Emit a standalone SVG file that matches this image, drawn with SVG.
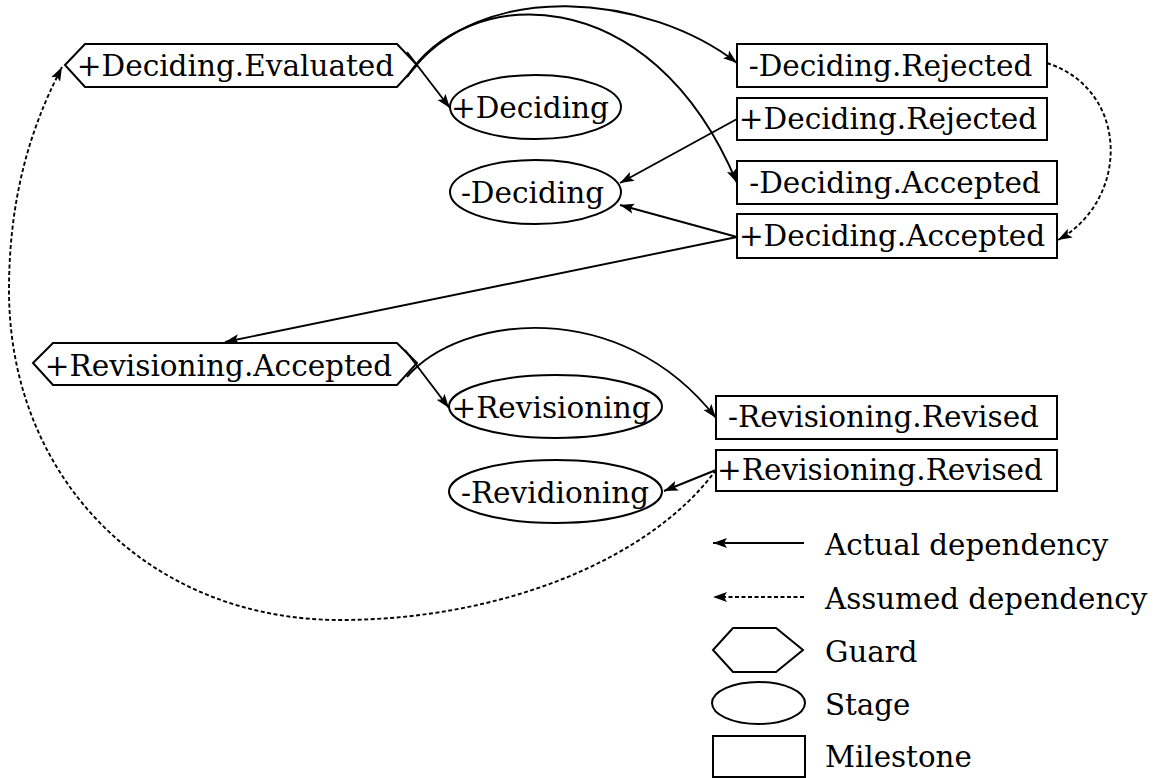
<svg xmlns="http://www.w3.org/2000/svg" width="1160" height="778" viewBox="0 0 1160 778">
  <style>
    .shape { fill: #fff; stroke: #000; stroke-width: 2; }
    .lbl { font-family: "DejaVu Serif", "Liberation Serif", serif; font-size: 29.5px; fill: #000; text-anchor: middle; }
    .leg { font-family: "DejaVu Serif", "Liberation Serif", serif; font-size: 29.3px; fill: #000; }
    .edge { fill: none; stroke: #000; stroke-width: 1.9; marker-end: url(#arrow); }
    .dash { stroke-dasharray: 4 2.5; }
  </style>
  <defs>
    <marker id="arrow" markerUnits="userSpaceOnUse" markerWidth="15" markerHeight="12" viewBox="0 0 15 12" refX="14" refY="6" orient="auto">
      <path d="M0,1 L14,6 L0,11 L3,6 Z" fill="#000"/>
    </marker>
  </defs>

  <!-- nodes -->
  <g id="guard-deciding-evaluated">
    <polygon class="shape" points="65,65 85,44 397,44 417,65 397,87 85,87"/>
    <text class="lbl" x="235.5" y="76">+Deciding.Evaluated</text>
  </g>
  <g id="stage-plus-deciding">
    <ellipse class="shape" cx="535.5" cy="107" rx="85.5" ry="32"/>
    <text class="lbl" x="530" y="118">+Deciding</text>
  </g>
  <g id="stage-minus-deciding">
    <ellipse class="shape" cx="535.5" cy="192" rx="85.5" ry="32"/>
    <text class="lbl" x="532.5" y="203">-Deciding</text>
  </g>
  <g id="ms-minus-deciding-rejected">
    <rect class="shape" x="737" y="44" width="310" height="43"/>
    <text class="lbl" x="890.5" y="76">-Deciding.Rejected</text>
  </g>
  <g id="ms-plus-deciding-rejected">
    <rect class="shape" x="737" y="98" width="310" height="42"/>
    <text class="lbl" x="888" y="129">+Deciding.Rejected</text>
  </g>
  <g id="ms-minus-deciding-accepted">
    <rect class="shape" x="737" y="161" width="320" height="43"/>
    <text class="lbl" x="895" y="193">-Deciding.Accepted</text>
  </g>
  <g id="ms-plus-deciding-accepted">
    <rect class="shape" x="737" y="214" width="320" height="44"/>
    <text class="lbl" x="892" y="246">+Deciding.Accepted</text>
  </g>
  <g id="guard-revisioning-accepted">
    <polygon class="shape" points="33,363 53,343 397,343 417,363 397,385 53,385"/>
    <text class="lbl" x="218.5" y="376">+Revisioning.Accepted</text>
  </g>
  <g id="stage-plus-revisioning">
    <ellipse class="shape" cx="555.5" cy="406.5" rx="106.5" ry="31.5"/>
    <text class="lbl" x="551" y="418">+Revisioning</text>
  </g>
  <g id="stage-minus-revisioning">
    <ellipse class="shape" cx="555.5" cy="491.5" rx="106.5" ry="31.5"/>
    <text class="lbl" x="555" y="503">-Revidioning</text>
  </g>
  <g id="ms-minus-revisioning-revised">
    <rect class="shape" x="716" y="396" width="341" height="43"/>
    <text class="lbl" x="883.5" y="427">-Revisioning.Revised</text>
  </g>
  <g id="ms-plus-revisioning-revised">
    <rect class="shape" x="716" y="450" width="341" height="41"/>
    <text class="lbl" x="880" y="480">+Revisioning.Revised</text>
  </g>

  <!-- connectors -->
  <g id="connectors">
    <path class="edge" d="M407,52 L450,108"/>
    <path class="edge" d="M407,77 C480,-25 650,-5 737,63"/>
    <path class="edge" d="M407,77 C465,-15 650,-25 737,183"/>
    <path class="edge" d="M737,119 L620,183"/>
    <path class="edge" d="M737,237 L620,205"/>
    <path class="edge" d="M737,237 L225,342"/>
    <path class="edge dash" d="M1047,63 C1130,90 1130,200 1058,240"/>
    <path class="edge" d="M405,350 L449,408"/>
    <path class="edge" d="M407,377 C460,315 620,295 716,418"/>
    <path class="edge" d="M716,470 L664,491"/>
    <path class="edge dash" d="M716,470 C650,560 500,620 340,620 C150,620 9,480 9,290 C9,180 40,110 62,67"/>
  </g>

  <!-- legend -->
  <g id="legend">
    <path class="edge" d="M804,543 L713,543"/>
    <text class="leg" x="825" y="555">Actual dependency</text>
    <path class="edge dash" d="M804,597 L713,597"/>
    <text class="leg" x="825" y="609">Assumed dependency</text>
    <polygon class="shape" points="713,650 733,628 776,628 803,650 776,672 733,672"/>
    <text class="leg" x="825" y="662">Guard</text>
    <ellipse class="shape" cx="758.5" cy="703" rx="46.5" ry="21"/>
    <text class="leg" x="825" y="715">Stage</text>
    <rect class="shape" x="713" y="736" width="92" height="41"/>
    <text class="leg" x="825" y="767">Milestone</text>
  </g>
</svg>
